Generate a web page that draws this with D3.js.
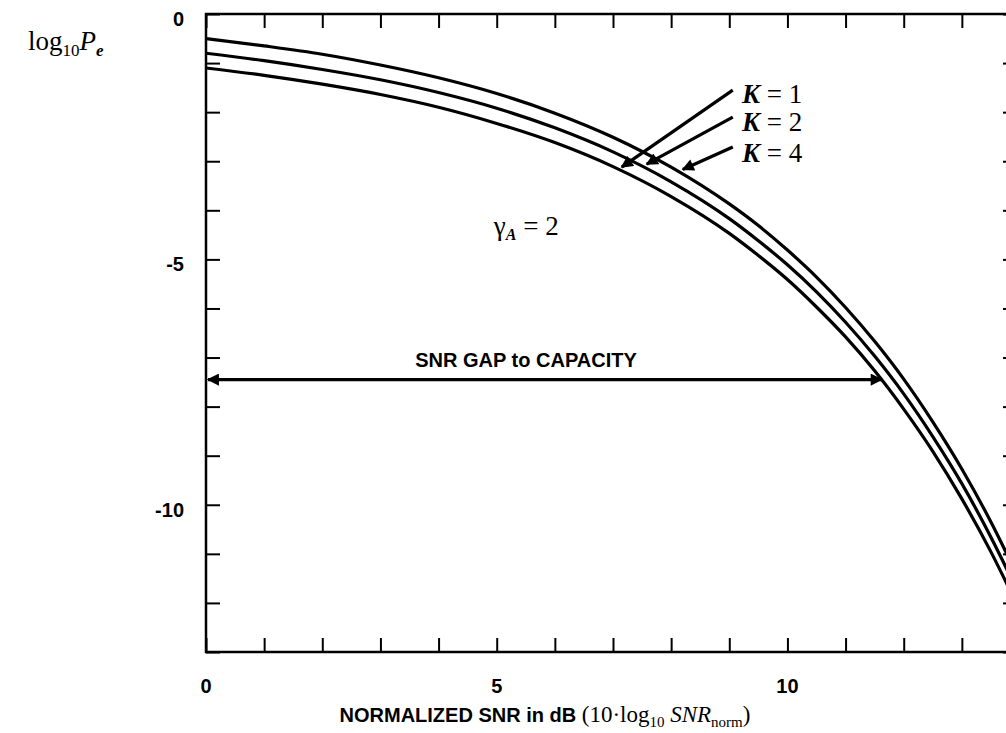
<!DOCTYPE html>
<html>
<head>
<meta charset="utf-8">
<script src="https://cdn.jsdelivr.net/npm/d3@7/dist/d3.min.js"></script>
<style>
  body { margin: 0; background: #fff; }
  svg { display: block; }
  .num { font-family: "Liberation Sans", Arial, sans-serif; font-weight: bold; font-size: 20px; }
  .serif { font-family: "Liberation Serif", "Times New Roman", serif; }
</style>
</head>
<body>
<svg id="chart"></svg>
<script>
// values (log10 of error probability vs normalized SNR in dB)
const snrDb = [0, 1, 2, 3, 4, 5, 6, 7, 8, 9, 9.5, 10, 10.5, 11, 11.5, 12, 12.5, 13, 13.5, 14];
const peK1 = [-1.10, -1.25, -1.43, -1.64, -1.90, -2.23, -2.62, -3.11, -3.72, -4.47, -4.92, -5.41, -5.97, -6.58, -7.27, -8.05, -8.91, -9.88, -10.96, -12.17];
const peK2 = [-0.80, -0.95, -1.13, -1.34, -1.60, -1.92, -2.32, -2.81, -3.42, -4.17, -4.62, -5.11, -5.66, -6.28, -6.97, -7.74, -8.61, -9.57, -10.66, -11.87];
const peK4 = [-0.50, -0.65, -0.82, -1.04, -1.30, -1.62, -2.02, -2.51, -3.12, -3.87, -4.31, -4.81, -5.36, -5.98, -6.67, -7.44, -8.31, -9.27, -10.35, -11.56];
const seriesLabels = ['1', '2', '4'];
const xTickLabels = [0, 5, 10];
const yTickLabels = [0, -5, -10];
const gapLevel = -7.45;   // SNR gap arrow height
const gapEnd = 11.62;     // where it meets the K = 1 curve

const W = 1006, H = 733;
const svg = d3.select('#chart').attr('width', W).attr('height', H);

const x = d3.scaleLinear().domain([0, 14]).range([206, 1020]);
const y = d3.scaleLinear().domain([0, -13]).range([14, 652]);

const defs = svg.append('defs');
defs.append('clipPath').attr('id', 'plotClip')
  .append('rect')
  .attr('x', x(0)).attr('y', y(0))
  .attr('width', x(14) - x(0)).attr('height', y(-13) - y(0));
defs.append('marker')
  .attr('id', 'head')
  .attr('viewBox', '0 0 10 10')
  .attr('refX', 9).attr('refY', 5)
  .attr('markerWidth', 4.5).attr('markerHeight', 3.8)
  .attr('markerUnits', 'strokeWidth')
  .attr('orient', 'auto-start-reverse')
  .append('path')
  .attr('d', 'M0,0 L10,5 L0,10 Z')
  .attr('fill', '#000');

// frame + inward ticks on all four sides
const allX = d3.range(0, 15), allY = d3.range(0, -14, -1);
const tickStyle = (g) => {
  g.select('.domain').remove();
  g.selectAll('.tick line').attr('stroke', '#000').attr('stroke-width', 2);
};
svg.append('g').attr('transform', 'translate(0,' + y(-13) + ')')
  .call(d3.axisBottom(x).tickValues(allX).tickSize(-14).tickFormat('')).call(tickStyle);
svg.append('g').attr('transform', 'translate(0,' + y(0) + ')')
  .call(d3.axisTop(x).tickValues(allX).tickSize(-14).tickFormat('')).call(tickStyle);
svg.append('g').attr('transform', 'translate(' + x(0) + ',0)')
  .call(d3.axisLeft(y).tickValues(allY).tickSize(-14).tickFormat('')).call(tickStyle);
svg.append('g').attr('transform', 'translate(' + x(14) + ',0)')
  .call(d3.axisRight(y).tickValues(allY).tickSize(-17).tickFormat('')).call(tickStyle);

svg.append('rect')
  .attr('x', x(0)).attr('y', y(0))
  .attr('width', x(14) - x(0)).attr('height', y(-13) - y(0))
  .attr('fill', 'none').attr('stroke', '#000').attr('stroke-width', 2.5);

// tick labels
svg.selectAll('text.ylab').data(yTickLabels).enter().append('text')
  .attr('class', 'ylab num')
  .attr('x', 184).attr('y', (d) => y(d) + 12)
  .attr('text-anchor', 'end')
  .text((d) => d);
svg.selectAll('text.xlab').data(xTickLabels).enter().append('text')
  .attr('class', 'xlab num')
  .attr('x', (d) => x(d)).attr('y', 693)
  .attr('text-anchor', 'middle')
  .text((d) => d);

// curves
const line = d3.line().x((d) => x(d[0])).y((d) => y(d[1])).curve(d3.curveMonotoneX);
const curves = [peK1, peK2, peK4].map((vals) => snrDb.map((s, i) => [s, vals[i]]));
svg.append('g').attr('clip-path', 'url(#plotClip)')
  .selectAll('path').data(curves).enter().append('path')
  .attr('d', line)
  .attr('fill', 'none').attr('stroke', '#000').attr('stroke-width', 3.2);

// K labels with arrows
const kNotes = [
  { tail: [9.06, -1.55], tip: [7.15, -3.12], label: [9.22, -1.82] },
  { tail: [9.06, -2.10], tip: [7.58, -3.06], label: [9.22, -2.38] },
  { tail: [9.06, -2.71], tip: [8.20, -3.17], label: [9.22, -3.02] }
];
kNotes.forEach((n, i) => {
  svg.append('line')
    .attr('x1', x(n.tail[0])).attr('y1', y(n.tail[1]))
    .attr('x2', x(n.tip[0])).attr('y2', y(n.tip[1]))
    .attr('stroke', '#000').attr('stroke-width', 3.2)
    .attr('marker-end', 'url(#head)');
  const t = svg.append('text').attr('class', 'serif')
    .attr('x', x(n.label[0])).attr('y', y(n.label[1]))
    .attr('font-size', 27);
  t.append('tspan').attr('font-style', 'italic').attr('font-weight', 'bold').text('K');
  t.append('tspan').text(' = ' + seriesLabels[i]);
});

// gamma label
const g = svg.append('text').attr('class', 'serif')
  .attr('x', x(4.95)).attr('y', y(-4.5)).attr('font-size', 27);
g.append('tspan').text('γ');
g.append('tspan').attr('font-size', 16).attr('dy', 5).attr('font-style', 'italic').attr('font-weight', 'bold').text('A');
g.append('tspan').attr('dy', -5).text(' = 2');

// SNR gap arrow
svg.append('line')
  .attr('x1', x(0) + 2).attr('y1', y(gapLevel))
  .attr('x2', x(gapEnd)).attr('y2', y(gapLevel))
  .attr('stroke', '#000').attr('stroke-width', 3.2)
  .attr('marker-start', 'url(#head)')
  .attr('marker-end', 'url(#head)');
svg.append('text').attr('class', 'num')
  .attr('x', 526).attr('y', y(gapLevel) - 13)
  .attr('text-anchor', 'middle')
  .attr('font-size', 21)
  .text('SNR GAP to CAPACITY');

// y title: log10 Pe
const yt = svg.append('text').attr('class', 'serif')
  .attr('x', 28).attr('y', 50).attr('font-size', 27);
yt.append('tspan').text('log');
yt.append('tspan').attr('font-size', 17).attr('dy', 6).text('10');
yt.append('tspan').attr('dy', -6).attr('font-style', 'italic').text('P');
yt.append('tspan').attr('font-size', 17).attr('dy', 6).attr('font-style', 'italic').attr('font-weight', 'bold').text('e');

// x title
const xt = svg.append('text')
  .attr('x', 545).attr('y', 722)
  .attr('text-anchor', 'middle');
xt.append('tspan').attr('class', 'num').attr('font-size', 18).text('NORMALIZED SNR in dB ');
xt.append('tspan').attr('class', 'serif').attr('font-size', 23).text('(10·log');
xt.append('tspan').attr('class', 'serif').attr('font-size', 15).attr('dy', 5).text('10');
xt.append('tspan').attr('class', 'serif').attr('font-size', 23).attr('dy', -5).attr('font-style', 'italic').text(' SNR');
xt.append('tspan').attr('class', 'serif').attr('font-size', 15).attr('dy', 5).text('norm');
xt.append('tspan').attr('class', 'serif').attr('font-size', 23).attr('dy', -5).text(')');
</script>
</body>
</html>
